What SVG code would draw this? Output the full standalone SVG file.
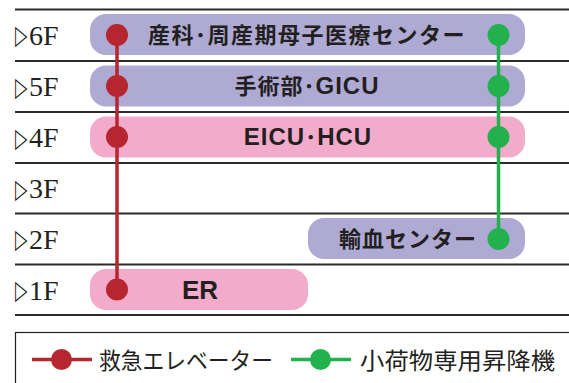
<svg xmlns="http://www.w3.org/2000/svg" width="569" height="383" viewBox="0 0 569 383">
<style>
.floor{stroke:#2b2b2b;stroke-width:2}
.fl{font-family:"Liberation Serif","DejaVu Serif",serif;font-size:28px;fill:#231f20}
.tri{font-family:"DejaVu Sans",sans-serif;font-size:27px;fill:#231f20}
.purple{fill:#aeaad4}
.pink{fill:#f3abcc}
.lbl{font-family:"Liberation Sans","Noto Sans CJK JP",sans-serif;font-weight:bold;font-size:22px;fill:#231f20;text-anchor:middle}
.lat{font-size:24px}
.big{font-size:26px}
.red{fill:#b5262e}
.green{fill:#22b14c}
.rl{stroke:#b5262e;stroke-width:3.5}
.gl{stroke:#22b14c;stroke-width:3.5}
.leg{font-family:"Noto Sans CJK JP",sans-serif;font-size:23px;fill:#231f20}
</style>
<rect width="569" height="383" fill="#ffffff"/>
<g id="floors">
<line class="floor" x1="15" y1="9.5" x2="569" y2="9.5"/>
<line class="floor" x1="15" y1="61" x2="569" y2="61"/>
<line class="floor" x1="15" y1="112" x2="569" y2="112"/>
<line class="floor" x1="15" y1="163" x2="569" y2="163"/>
<line class="floor" x1="15" y1="213.5" x2="569" y2="213.5"/>
<line class="floor" x1="15" y1="264.5" x2="569" y2="264.5"/>
<line class="floor" x1="15" y1="315" x2="569" y2="315"/>
<text class="tri" transform="translate(15,44) scale(0.6,1)">▷</text><text class="fl" x="29" y="44.5">6F</text>
<text class="tri" transform="translate(15,95.5) scale(0.6,1)">▷</text><text class="fl" x="29" y="96">5F</text>
<text class="tri" transform="translate(15,146.5) scale(0.6,1)">▷</text><text class="fl" x="29" y="147">4F</text>
<text class="tri" transform="translate(15,197.5) scale(0.6,1)">▷</text><text class="fl" x="29" y="198">3F</text>
<text class="tri" transform="translate(15,248) scale(0.6,1)">▷</text><text class="fl" x="29" y="248.5">2F</text>
<text class="tri" transform="translate(15,299) scale(0.6,1)">▷</text><text class="fl" x="29" y="299.5">1F</text>
</g>
<g id="n6F">
<rect class="purple" x="90" y="14" width="435" height="41" rx="16"/>
<text class="lbl" x="307" y="43" letter-spacing="1.5">産科･周産期母子医療センター</text>
</g>
<g id="n5F">
<rect class="purple" x="90" y="65.5" width="435" height="41" rx="16"/>
<text class="lbl" x="307" y="94" letter-spacing="1">手術部･<tspan class="lat">GICU</tspan></text>
</g>
<g id="n4F">
<rect class="pink" x="90" y="116.5" width="435" height="41" rx="16"/>
<text class="lbl" x="308" y="145" letter-spacing="1"><tspan class="lat">EICU</tspan>･<tspan class="lat">HCU</tspan></text>
</g>
<g id="n2F">
<rect class="purple" x="308" y="218" width="217" height="41" rx="16"/>
<text class="lbl" x="408" y="247" letter-spacing="1">輸血センター</text>
</g>
<g id="n1F">
<rect class="pink" x="90" y="269" width="218" height="41" rx="16"/>
<text class="lbl big" x="200" y="299">ER</text>
</g>
<g id="connectors">
<line class="rl" x1="117" y1="35" x2="117" y2="289.5"/>
<line class="gl" x1="498.5" y1="35" x2="498.5" y2="239"/>
<circle class="red" cx="117" cy="35" r="11"/>
<circle class="red" cx="117" cy="86" r="11"/>
<circle class="red" cx="117" cy="137" r="11"/>
<circle class="red" cx="117" cy="289.5" r="11"/>
<circle class="green" cx="498.5" cy="35" r="11"/>
<circle class="green" cx="498.5" cy="86" r="11"/>
<circle class="green" cx="498.5" cy="137" r="11"/>
<circle class="green" cx="498.5" cy="239" r="11"/>
</g>
<g id="legend">
<rect x="15.5" y="332.5" width="560" height="60" fill="none" stroke="#231f20" stroke-width="1.2"/>
<line class="rl" x1="32" y1="359.5" x2="92" y2="359.5"/>
<circle class="red" cx="61.5" cy="359.5" r="10.5"/>
<text class="leg" x="99" y="368.5" textLength="174" lengthAdjust="spacingAndGlyphs">救急エレベーター</text>
<line class="gl" x1="291" y1="359.5" x2="351" y2="359.5"/>
<circle class="green" cx="320.5" cy="359.5" r="10.5"/>
<text class="leg" x="360" y="368.5" textLength="195" lengthAdjust="spacingAndGlyphs">小荷物専用昇降機</text>
</g>
</svg>
